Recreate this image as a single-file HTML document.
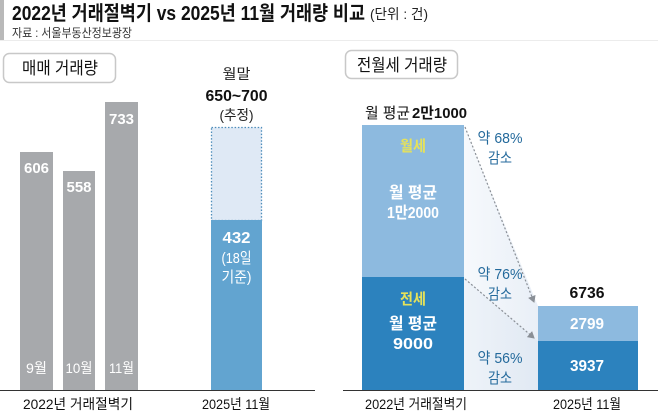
<!DOCTYPE html>
<html><head><meta charset="utf-8"><style>
html,body{margin:0;padding:0;background:#fff;}
svg{display:block;}
text{font-family:"Liberation Sans","Noto Sans CJK KR",sans-serif;}
</style></head><body>
<svg width="658" height="413" viewBox="0 0 658 413" xmlns="http://www.w3.org/2000/svg">
<rect x="0" y="0" width="658" height="413" fill="#fff"/>
<!-- header -->
<rect x="0" y="0" width="4" height="40" fill="#b9b9b9"/>
<line x1="0" y1="40.5" x2="658" y2="40.5" stroke="#ececec" stroke-width="1"/>
<text x="12" y="20" font-size="20" font-weight="bold" fill="#111" textLength="353" lengthAdjust="spacingAndGlyphs">2022년 거래절벽기 vs 2025년 11월 거래량 비교</text>
<text x="370" y="19" font-size="14" fill="#222" textLength="58" lengthAdjust="spacingAndGlyphs">(단위 : 건)</text>
<text x="12" y="37" font-size="12" fill="#333" textLength="120" lengthAdjust="spacingAndGlyphs">자료 : 서울부동산정보광장</text>

<!-- left box -->
<rect x="3.5" y="53.5" width="112" height="29" rx="6" fill="#fff" stroke="#c8c8c8" stroke-width="1.5"/>
<text x="60" y="74" font-size="17" fill="#111" text-anchor="middle" textLength="76" lengthAdjust="spacingAndGlyphs">매매 거래량</text>
<!-- right box -->
<rect x="345.5" y="50.5" width="112" height="28" rx="6" fill="#fff" stroke="#c8c8c8" stroke-width="1.5"/>
<text x="402" y="71" font-size="17" fill="#111" text-anchor="middle" textLength="90" lengthAdjust="spacingAndGlyphs">전월세 거래량</text>

<!-- left bars -->
<rect x="20" y="152" width="33" height="238" fill="#a7a9ac"/>
<rect x="63" y="171" width="32" height="219" fill="#a7a9ac"/>
<rect x="105" y="102" width="33" height="288" fill="#a7a9ac"/>
<text x="36.5" y="173" font-size="15" font-weight="bold" fill="#fff" text-anchor="middle" textLength="25" lengthAdjust="spacingAndGlyphs">606</text>
<text x="79" y="192" font-size="15" font-weight="bold" fill="#fff" text-anchor="middle" textLength="25" lengthAdjust="spacingAndGlyphs">558</text>
<text x="121.5" y="124" font-size="15" font-weight="bold" fill="#fff" text-anchor="middle" textLength="25" lengthAdjust="spacingAndGlyphs">733</text>
<text x="36.5" y="373" font-size="14" fill="#fff" text-anchor="middle" textLength="21" lengthAdjust="spacingAndGlyphs">9월</text>
<text x="79" y="373" font-size="14" fill="#fff" text-anchor="middle" textLength="27" lengthAdjust="spacingAndGlyphs">10월</text>
<text x="121.5" y="373" font-size="14" fill="#fff" text-anchor="middle" textLength="25" lengthAdjust="spacingAndGlyphs">11월</text>

<!-- 2025 bar -->
<rect x="211.5" y="127.5" width="50" height="93" fill="#dfe9f5" stroke="#4e8dbb" stroke-width="1.3" stroke-dasharray="1.5 1.8"/>
<rect x="211" y="220" width="51" height="170" fill="#62a4d0"/>
<text x="236.5" y="243" font-size="16" font-weight="bold" fill="#fff" text-anchor="middle" textLength="28" lengthAdjust="spacingAndGlyphs">432</text>
<text x="236.5" y="263" font-size="15" fill="#fff" text-anchor="middle" textLength="30" lengthAdjust="spacingAndGlyphs">(18일</text>
<text x="236.5" y="282" font-size="15" fill="#fff" text-anchor="middle" textLength="30" lengthAdjust="spacingAndGlyphs">기준)</text>
<text x="236.5" y="79" font-size="14" fill="#222" text-anchor="middle" textLength="28" lengthAdjust="spacingAndGlyphs">월말</text>
<text x="236.5" y="101" font-size="16" font-weight="bold" fill="#111" text-anchor="middle" textLength="62" lengthAdjust="spacingAndGlyphs">650~700</text>
<text x="236.5" y="120" font-size="14" fill="#222" text-anchor="middle" textLength="34" lengthAdjust="spacingAndGlyphs">(추정)</text>

<!-- left baseline & labels -->
<line x1="0" y1="390.5" x2="315" y2="390.5" stroke="#333" stroke-width="1"/>
<text x="78" y="409" font-size="14" fill="#111" text-anchor="middle" textLength="110" lengthAdjust="spacingAndGlyphs">2022년 거래절벽기</text>
<text x="236" y="409" font-size="14" fill="#111" text-anchor="middle" textLength="68" lengthAdjust="spacingAndGlyphs">2025년 11월</text>

<!-- right chart -->
<defs>
<linearGradient id="g1" x1="0" y1="0" x2="1" y2="0">
<stop offset="0" stop-color="#f6f9fc"/><stop offset="1" stop-color="#e9eff7"/>
</linearGradient>
<linearGradient id="g2" x1="0" y1="0" x2="1" y2="0">
<stop offset="0" stop-color="#eef3f9"/><stop offset="1" stop-color="#e1e9f3"/>
</linearGradient>
<marker id="ah" markerWidth="8" markerHeight="8" refX="6" refY="4" orient="auto" markerUnits="userSpaceOnUse">
<path d="M0,0 L7,4 L0,8 Z" fill="#8a8f96"/>
</marker>
</defs>
<polygon points="464,125 538,306 538,341 464,277" fill="url(#g1)"/>
<polygon points="464,277 538,341 538,390 464,390" fill="url(#g2)"/>

<rect x="362" y="125" width="102" height="152" fill="#8dbadf"/>
<rect x="362" y="277" width="102" height="113" fill="#2c82be"/>
<rect x="538" y="306" width="100" height="35" fill="#8dbadf"/>
<rect x="538" y="341" width="100" height="49" fill="#2c82be"/>

<line x1="465" y1="127" x2="534" y2="302" stroke="#8a8f96" stroke-width="1.2" stroke-dasharray="2 2" marker-end="url(#ah)"/>
<line x1="465" y1="279" x2="534" y2="338" stroke="#8a8f96" stroke-width="1.2" stroke-dasharray="2 2" marker-end="url(#ah)"/>

<text x="365" y="118" font-size="15" fill="#111" textLength="45" lengthAdjust="spacingAndGlyphs">월 평균</text>
<text x="412" y="118" font-size="15" font-weight="bold" fill="#111" textLength="55" lengthAdjust="spacingAndGlyphs">2만1000</text>

<text x="413" y="151" font-size="15" font-weight="bold" fill="#e6e25a" text-anchor="middle" textLength="26" lengthAdjust="spacingAndGlyphs">월세</text>
<text x="413" y="198" font-size="16" font-weight="bold" fill="#fff" text-anchor="middle" textLength="48" lengthAdjust="spacingAndGlyphs">월 평균</text>
<text x="413" y="218" font-size="16" font-weight="bold" fill="#fff" text-anchor="middle" textLength="52" lengthAdjust="spacingAndGlyphs">1만2000</text>
<text x="413" y="304" font-size="15" font-weight="bold" fill="#e6e25a" text-anchor="middle" textLength="26" lengthAdjust="spacingAndGlyphs">전세</text>
<text x="413" y="329" font-size="16" font-weight="bold" fill="#fff" text-anchor="middle" textLength="48" lengthAdjust="spacingAndGlyphs">월 평균</text>
<text x="413" y="349" font-size="16" font-weight="bold" fill="#fff" text-anchor="middle" textLength="40" lengthAdjust="spacingAndGlyphs">9000</text>

<text x="500" y="143" font-size="15" fill="#246a9c" text-anchor="middle" textLength="45" lengthAdjust="spacingAndGlyphs">약 68%</text>
<text x="500" y="163" font-size="15" fill="#246a9c" text-anchor="middle" textLength="24" lengthAdjust="spacingAndGlyphs">감소</text>
<text x="500" y="279" font-size="15" fill="#246a9c" text-anchor="middle" textLength="45" lengthAdjust="spacingAndGlyphs">약 76%</text>
<text x="500" y="299" font-size="15" fill="#246a9c" text-anchor="middle" textLength="24" lengthAdjust="spacingAndGlyphs">감소</text>
<text x="500" y="363" font-size="15" fill="#246a9c" text-anchor="middle" textLength="45" lengthAdjust="spacingAndGlyphs">약 56%</text>
<text x="500" y="383" font-size="15" fill="#246a9c" text-anchor="middle" textLength="24" lengthAdjust="spacingAndGlyphs">감소</text>

<text x="587" y="298" font-size="16" font-weight="bold" fill="#111" text-anchor="middle" textLength="35" lengthAdjust="spacingAndGlyphs">6736</text>
<text x="587" y="329" font-size="16" font-weight="bold" fill="#fff" text-anchor="middle" textLength="34" lengthAdjust="spacingAndGlyphs">2799</text>
<text x="587" y="371" font-size="16" font-weight="bold" fill="#fff" text-anchor="middle" textLength="34" lengthAdjust="spacingAndGlyphs">3937</text>

<line x1="343" y1="390.5" x2="658" y2="390.5" stroke="#333" stroke-width="1"/>
<text x="416" y="409" font-size="14" fill="#111" text-anchor="middle" textLength="102" lengthAdjust="spacingAndGlyphs">2022년 거래절벽기</text>
<text x="587" y="409" font-size="14" fill="#111" text-anchor="middle" textLength="68" lengthAdjust="spacingAndGlyphs">2025년 11월</text>
</svg>
</body></html>
